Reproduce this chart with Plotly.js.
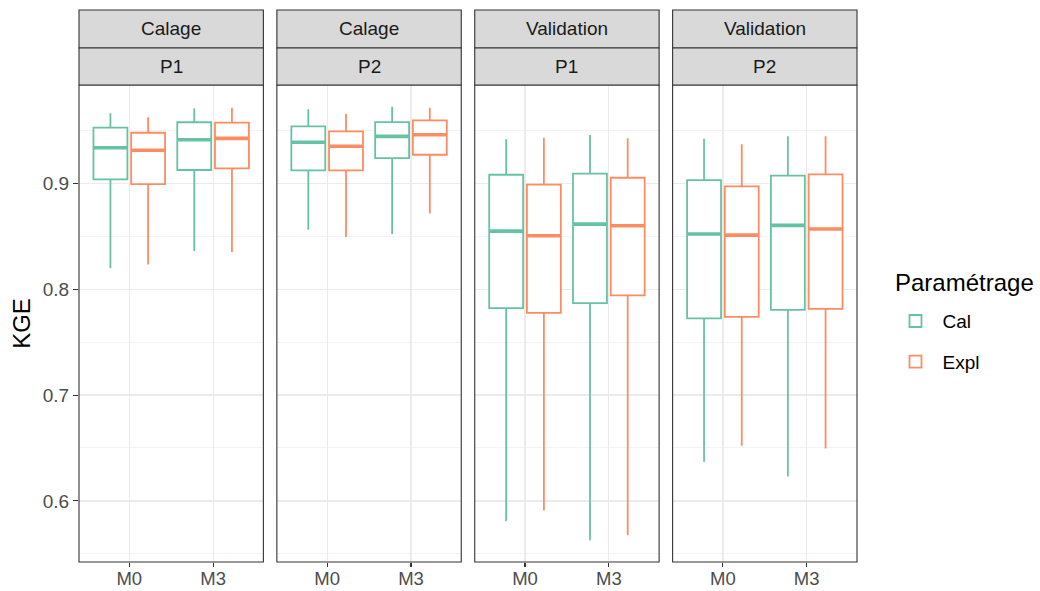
<!DOCTYPE html>
<html><head><meta charset="utf-8">
<script src="https://cdn.plot.ly/plotly-3.0.1.min.js"></script>
<style>html,body{margin:0;padding:0;background:#fff}#chart{width:1040px;height:591px}</style>
</head><body><div id="chart"></div>
<script>
const models = ['M0', 'M3'];
const stripTop = ['Calage', 'Calage', 'Validation', 'Validation'];
const stripBottom = ['P1', 'P2', 'P1', 'P2'];
const params = ['Cal', 'Expl'];
const legendTitle = 'Paramétrage';
const yTickVals = [0.6, 0.7, 0.8, 0.9];
const yTickText = ['0.6', '0.7', '0.8', '0.9'];

// one row per panel, values for [M0, M3]
const calLower  = [[0.8197, 0.8360], [0.8561, 0.8521], [0.5808, 0.5629], [0.6369, 0.6231]];
const calQ1     = [[0.9038, 0.9126], [0.9123, 0.9239], [0.7821, 0.7869], [0.7724, 0.7805]];
const calMedian = [[0.9336, 0.9412], [0.9388, 0.9444], [0.8549, 0.8615], [0.8521, 0.8603]];
const calQ3     = [[0.9526, 0.9577], [0.9539, 0.9579], [0.9081, 0.9091], [0.9031, 0.9072]];
const calUpper  = [[0.9662, 0.9709], [0.9699, 0.9724], [0.9416, 0.9457], [0.9422, 0.9444]];

const explLower  = [[0.8234, 0.8351], [0.8492, 0.8716], [0.5909, 0.5676], [0.6520, 0.6495]];
const explQ1     = [[0.8993, 0.9142], [0.9123, 0.9270], [0.7777, 0.7941], [0.7739, 0.7815]];
const explMedian = [[0.9312, 0.9425], [0.9350, 0.9459], [0.8505, 0.8599], [0.8511, 0.8568]];
const explQ3     = [[0.9478, 0.9573], [0.9491, 0.9595], [0.8987, 0.9053], [0.8972, 0.9085]];
const explUpper  = [[0.9624, 0.9715], [0.9655, 0.9715], [0.9431, 0.9425], [0.9369, 0.9444]];

const colors = {Cal: '#66C2A5', Expl: '#FC8D62'};
const stats = {
  Cal: {lo: calLower, q1: calQ1, med: calMedian, q3: calQ3, hi: calUpper},
  Expl: {lo: explLower, q1: explQ1, med: explMedian, q3: explQ3, hi: explUpper}
};

const FONT = 'Liberation Sans, Arial, sans-serif';
const W = 1040, H = 591;
const mL = 79, mR = 182.5, mT = 85, mB = 29.3;
const plotW = W - mL - mR;
const panelW = 184.5, gapW = 13.5;
const stripH1 = 38, stripH2 = 37;
const plotH = H - mT - mB;
const px2x = px => (px - mL) / plotW;
const px2y = py => (H - mB - py) / plotH;

const traces = [];
const layout = {
  width: W, height: H,
  margin: {l: mL, r: mR, t: mT, b: mB, pad: 0},
  paper_bgcolor: '#ffffff', plot_bgcolor: '#ffffff',
  font: {family: FONT, color: '#4D4D4D', size: 19},
  boxmode: 'group', boxgap: 0.1, boxgroupgap: 0.1,
  showlegend: true,
  legend: {
    x: px2x(889), y: px2y(302), xanchor: 'left', yanchor: 'top',
    font: {size: 19, color: '#000000', family: FONT},
    itemwidth: 44, tracegroupgap: 13, bgcolor: 'rgba(0,0,0,0)'
  },
  yaxis: {
    domain: [0, 1], anchor: 'x', range: [0.5423, 0.9929],
    tickvals: yTickVals, ticktext: yTickText,
    ticks: 'outside', ticklen: 5, tickwidth: 1.1, tickcolor: '#333333',
    tickfont: {size: 19, color: '#4D4D4D', family: FONT},
    showgrid: true, gridcolor: '#EBEBEB', gridwidth: 1.2, zeroline: false, showline: false,
    minor: {tickvals: [0.55, 0.65, 0.75, 0.85, 0.95], showgrid: true, gridcolor: '#EBEBEB', gridwidth: 0.6, ticks: ''},
    title: {text: 'KGE', font: {size: 24, color: '#000000', family: FONT}, standoff: 5}
  },
  shapes: [],
  annotations: [{
    text: legendTitle, xref: 'paper', yref: 'paper', x: px2x(894), y: px2y(282),
    xanchor: 'left', yanchor: 'middle', showarrow: false,
    font: {size: 24, color: '#000000', family: FONT}
  }]
};

for (let p = 0; p < 4; p++) {
  const xa = p === 0 ? 'x' : 'x' + (p + 1);
  const axKey = p === 0 ? 'xaxis' : 'xaxis' + (p + 1);
  const d0 = (p * (panelW + gapW)) / plotW;
  const d1 = (p * (panelW + gapW) + panelW) / plotW;
  layout[axKey] = {
    domain: [d0, d1], anchor: 'y', type: 'category',
    categoryorder: 'array', categoryarray: models, range: [-0.6, 1.6],
    ticks: 'outside', ticklen: 4, tickwidth: 1.1, tickcolor: '#333333',
    ticklabelstandoff: -4,
    tickfont: {size: 18.5, color: '#4D4D4D', family: FONT},
    showgrid: true, gridcolor: '#EBEBEB', gridwidth: 1.2, zeroline: false, showline: false
  };
  params.forEach(par => {
    const s = stats[par];
    traces.push({
      type: 'box', name: par, x: models, xaxis: xa, yaxis: 'y',
      q1: s.q1[p], median: s.med[p], q3: s.q3[p],
      lowerfence: s.lo[p], upperfence: s.hi[p],
      offsetgroup: par, legendgroup: par, showlegend: p === 0,
      line: {color: colors[par], width: 1.8}, fillcolor: '#ffffff',
      whiskerwidth: 0, hoverinfo: 'skip'
    });
    traces.push({
      type: 'box', name: par + ' median', x: models, xaxis: xa, yaxis: 'y',
      q1: s.med[p], median: s.med[p], q3: s.med[p],
      lowerfence: s.med[p], upperfence: s.med[p],
      offsetgroup: par, legendgroup: par, showlegend: false,
      line: {color: colors[par], width: 3.6}, fillcolor: colors[par],
      whiskerwidth: 0, hoverinfo: 'skip'
    });
  });
  const xdom = xa + ' domain';
  layout.shapes.push({type: 'rect', xref: xdom, yref: 'y domain', x0: 0, x1: 1, y0: 0, y1: 1,
    line: {color: '#333333', width: 1.1}, fillcolor: 'rgba(0,0,0,0)', layer: 'above'});
  const yb0 = 1, yb1 = 1 + stripH2 / plotH, yt1 = yb1 + stripH1 / plotH;
  layout.shapes.push({type: 'rect', xref: xdom, yref: 'paper', x0: 0, x1: 1, y0: yb1, y1: yt1,
    line: {color: '#333333', width: 1.1}, fillcolor: '#D9D9D9', layer: 'above'});
  layout.shapes.push({type: 'rect', xref: xdom, yref: 'paper', x0: 0, x1: 1, y0: yb0, y1: yb1,
    line: {color: '#333333', width: 1.1}, fillcolor: '#D9D9D9', layer: 'above'});
  layout.annotations.push({text: stripTop[p], xref: xdom, yref: 'paper', x: 0.5, y: (yb1 + yt1) / 2,
    xanchor: 'center', yanchor: 'middle', showarrow: false,
    font: {size: 19, color: '#1A1A1A', family: FONT}});
  layout.annotations.push({text: stripBottom[p], xref: xdom, yref: 'paper', x: 0.5, y: (yb0 + yb1) / 2,
    xanchor: 'center', yanchor: 'middle', showarrow: false,
    font: {size: 19, color: '#1A1A1A', family: FONT}});
}

Plotly.newPlot('chart', traces, layout, {staticPlot: true, displayModeBar: false});
</script>
</body></html>
